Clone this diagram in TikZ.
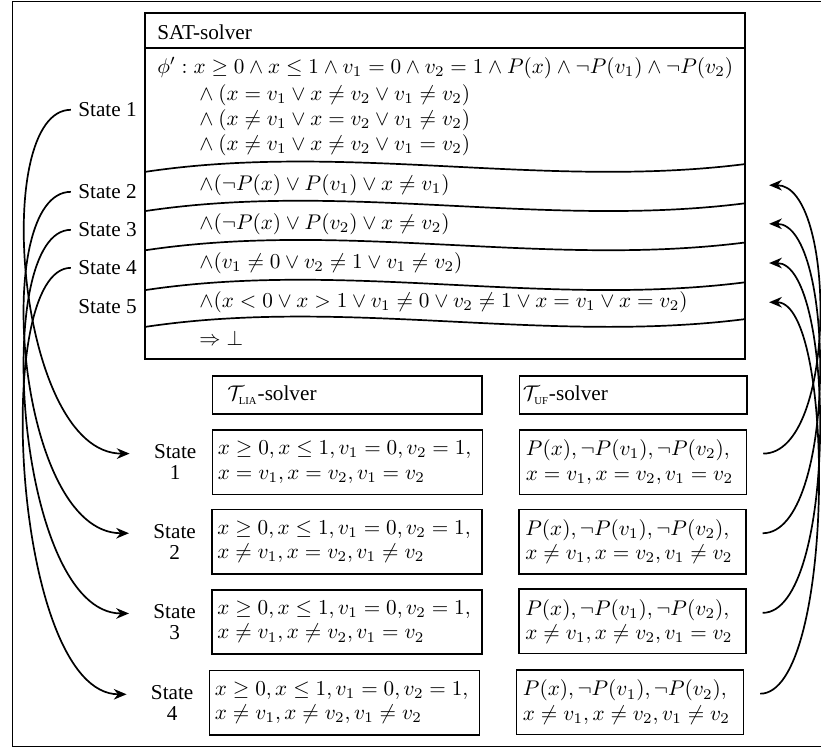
\documentclass[tikz,border=0pt]{standalone}
\usepackage{amsmath,amssymb}
\usepackage[no-math]{fontspec}
\setmainfont{Liberation Serif}
\usetikzlibrary{arrows.meta, positioning}
\tikzset{>={Stealth[length = 6pt, width = 5pt]}}
\tikzset{statebox/.style = {draw, thick, anchor = west, align = left, inner xsep = 3pt, minimum height = 1.07cm}}
\tikzset{headbox/.style = {draw, thick, anchor = west, align = left, minimum height = 0.63cm}}
\tikzset{clause/.style = {anchor = west, inner sep = 0pt}}
\tikzset{statelabel/.style = {align = center}}
\tikzset{link/.style = {->, thick}}
\begin{document}
\begin{tikzpicture}
\useasboundingbox (0,0) rectangle (13.61,-12.40);
\draw [semithick] (13.8,-0.03) -- (0.21,-0.03) -- (0.21,-12.37) -- (13.8,-12.37);
\node [draw, thick, minimum width = 9.95cm, minimum height = 5.74cm, inner sep = 0pt] (sat) at (7.375,-3.08) {};
\draw [thick] (2.40,-0.79) -- (12.35,-0.79);
\node [clause] (head) at (2.60,-0.53) {SAT-solver};
\node [clause] (p0) at (2.60,-1.13) {$\phi' : x \geq 0 \wedge x \leq 1 \wedge v_1 = 0 \wedge v_2 = 1 \wedge P(x) \wedge \neg P(v_1) \wedge \neg P(v_2)$};
\node [clause] (p1) at (3.30,-1.57) {$\wedge\: (x = v_1 \vee x \neq v_2 \vee v_1 \neq v_2)$};
\node [clause] (p2) at (3.30,-1.99) {$\wedge\: (x \neq v_1 \vee x = v_2 \vee v_1 \neq v_2)$};
\node [clause] (p3) at (3.30,-2.41) {$\wedge\: (x \neq v_1 \vee x \neq v_2 \vee v_1 = v_2)$};
\draw [thick] (2.40,-2.85) .. controls +(3.32,0.50) and +(-3.32,-0.42) .. (12.35,-2.72);
\node [clause] (c1) at (3.30,-3.07) {$\wedge(\neg P(x) \vee P(v_1) \vee x \neq v_1)$};
\draw [thick] (2.40,-3.50) .. controls +(3.32,0.50) and +(-3.32,-0.42) .. (12.35,-3.37);
\node [clause] (c2) at (3.30,-3.71) {$\wedge(\neg P(x) \vee P(v_2) \vee x \neq v_2)$};
\draw [thick] (2.40,-4.15) .. controls +(3.32,0.50) and +(-3.32,-0.42) .. (12.35,-4.02);
\node [clause] (c3) at (3.30,-4.36) {$\wedge(v_1 \neq 0 \vee v_2 \neq 1 \vee v_1 \neq v_2)$};
\draw [thick] (2.40,-4.81) .. controls +(3.32,0.50) and +(-3.32,-0.42) .. (12.35,-4.68);
\node [clause] (c4) at (3.30,-5.01) {$\wedge(x < 0 \vee x > 1 \vee v_1 \neq 0 \vee v_2 \neq 1 \vee x = v_1 \vee x = v_2)$};
\draw [thick] (2.40,-5.42) .. controls +(3.32,0.50) and +(-3.32,-0.42) .. (12.35,-5.29);
\node [clause] (bot) at (3.30,-5.60) {$\Rightarrow \bot$};
\node [anchor = east] (s1) at (2.39,-1.82) {State 1};
\node [anchor = east] (s2) at (2.39,-3.18) {State 2};
\node [anchor = east] (s3) at (2.39,-3.81) {State 3};
\node [anchor = east] (s4) at (2.39,-4.44) {State 4};
\node [anchor = east] (s5) at (2.39,-5.09) {State 5};
\node [headbox, inner xsep = 7pt, text width = 3.97cm] (lia) at (3.51,-6.55) {$\mathcal{T}_{\mbox{\tiny LIA}}$-solver};
\node [headbox, inner xsep = 1.5pt, text width = 3.66cm] (uf) at (8.60,-6.55) {$\mathcal{T}_{\mbox{\tiny UF}}$-solver};
\node [statebox, inner xsep = 2.5pt, text width = 4.30cm] (l1) at (3.51,-7.66) {$x \geq 0, x \leq 1, v_1 = 0, v_2 = 1,$\\[-0.5pt]$x = v_1, x = v_2, v_1 = v_2$};
\node [statebox, inner xsep = 2.5pt, text width = 4.30cm] (l2) at (3.50,-8.98) {$x \geq 0, x \leq 1, v_1 = 0, v_2 = 1,$\\[-0.5pt]$x \neq v_1, x = v_2, v_1 \neq v_2$};
\node [statebox, inner xsep = 2.5pt, text width = 4.30cm] (l3) at (3.50,-10.31) {$x \geq 0, x \leq 1, v_1 = 0, v_2 = 1,$\\[-0.5pt]$x \neq v_1, x \neq v_2, v_1 = v_2$};
\node [statebox, inner xsep = 2.5pt, text width = 4.30cm] (l4) at (3.46,-11.65) {$x \geq 0, x \leq 1, v_1 = 0, v_2 = 1,$\\[-0.5pt]$x \neq v_1, x \neq v_2, v_1 \neq v_2$};
\node [statebox, text width = 3.55cm] (u1) at (8.60,-7.66) {$P(x), \neg P(v_1), \neg P(v_2),$\\[-0.5pt]$x = v_1, x = v_2, v_1 = v_2$};
\node [statebox, text width = 3.55cm] (u2) at (8.59,-8.98) {$P(x), \neg P(v_1), \neg P(v_2),$\\[-0.5pt]$x \neq v_1, x = v_2, v_1 \neq v_2$};
\node [statebox, text width = 3.55cm] (u3) at (8.59,-10.30) {$P(x), \neg P(v_1), \neg P(v_2),$\\[-0.5pt]$x \neq v_1, x \neq v_2, v_1 = v_2$};
\node [statebox, text width = 3.55cm] (u4) at (8.55,-11.64) {$P(x), \neg P(v_1), \neg P(v_2),$\\[-0.5pt]$x \neq v_1, x \neq v_2, v_1 \neq v_2$};
\node [statelabel, left = 0.13cm of l1] (m1) {State\\[-2pt]1};
\node [statelabel, left = 0.13cm of l2] (m2) {State\\[-2pt]2};
\node [statelabel, left = 0.13cm of l3] (m3) {State\\[-2pt]3};
\node [statelabel, left = 0.13cm of l4] (m4) {State\\[-2pt]4};
\draw [link, shorten >= 8pt] (s1.west) .. controls +(-1.33,0) and +(-2.16,0) .. ([yshift = 4pt]m1.west);
\draw [link, shorten >= 8pt] (s2.west) .. controls +(-1.33,0) and +(-2.16,0) .. ([yshift = 4pt]m2.west);
\draw [link, shorten >= 8pt] (s3.west) .. controls +(-1.33,0) and +(-2.16,0) .. ([yshift = 4pt]m3.west);
\draw [link, shorten >= 8pt] (s4.west) .. controls +(-1.33,0) and +(-2.16,0) .. ([yshift = 4pt]m4.west);
\draw [link, shorten <= 7.5pt, shorten >= 11pt] ([yshift = 4pt]u1.east) .. controls +(1.5,0) and +(1.5,0) .. (c1 -| sat.east);
\draw [link, shorten <= 7.5pt, shorten >= 11pt] ([yshift = 4pt]u2.east) .. controls +(1.5,0) and +(1.5,0) .. (c2 -| sat.east);
\draw [link, shorten <= 7.5pt, shorten >= 11pt] ([yshift = 4pt]u3.east) .. controls +(1.5,0) and +(1.5,0) .. (c3 -| sat.east);
\draw [link, shorten <= 7.5pt, shorten >= 11pt] ([yshift = 4pt]u4.east) .. controls +(1.5,0) and +(1.5,0) .. (c4 -| sat.east);
\end{tikzpicture}
\end{document}
